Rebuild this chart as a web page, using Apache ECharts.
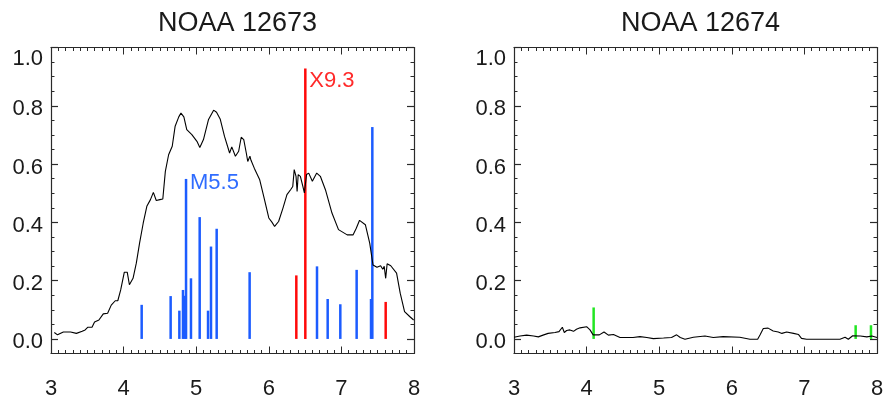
<!DOCTYPE html>
<html>
<head>
<meta charset="utf-8">
<script src="https://cdn.jsdelivr.net/npm/echarts@6/dist/echarts.min.js"></script>
<style>
html,body{margin:0;padding:0;background:#fff;}
#chart{width:886px;height:398px;}
</style>
</head>
<body>
<div id="chart"></div>
<script>
// ---- Data ----
const titles = ['NOAA 12673', 'NOAA 12674'];
const xTicks = [3, 4, 5, 6, 7, 8];
const yTickLabels = ['0.0', '0.2', '0.4', '0.6', '0.8', '1.0'];

// Left panel curve (NOAA 12673)
const curve1X = [3.046,3.09,3.17,3.27,3.35,3.43,3.47,3.505,3.53,3.565,3.60,3.66,3.72,3.78,3.83,3.885,3.92,3.96,4.01,4.05,4.08,4.13,4.175,4.22,4.27,4.32,4.37,4.41,4.45,4.50,4.54,4.575,4.62,4.67,4.71,4.76,4.79,4.83,4.87,4.94,5.01,5.05,5.10,5.17,5.24,5.28,5.33,5.39,5.46,5.49,5.54,5.585,5.62,5.655,5.69,5.71,5.74,5.755,5.80,5.875,5.93,6.00,6.045,6.08,6.135,6.195,6.25,6.30,6.33,6.35,6.375,6.39,6.405,6.435,6.47,6.49,6.52,6.55,6.60,6.66,6.71,6.78,6.87,6.96,7.08,7.16,7.205,7.25,7.33,7.39,7.435,7.49,7.54,7.57,7.59,7.61,7.63,7.68,7.76,7.81,7.87,7.94,7.995];
const curve1Y = [0.022,0.014,0.024,0.024,0.019,0.026,0.031,0.040,0.045,0.040,0.058,0.065,0.086,0.088,0.116,0.131,0.131,0.168,0.229,0.229,0.186,0.208,0.260,0.329,0.397,0.455,0.478,0.503,0.475,0.478,0.480,0.575,0.632,0.661,0.730,0.762,0.775,0.762,0.718,0.701,0.678,0.657,0.684,0.753,0.785,0.778,0.755,0.695,0.638,0.659,0.627,0.644,0.692,0.684,0.638,0.609,0.627,0.613,0.586,0.546,0.489,0.415,0.400,0.386,0.403,0.449,0.495,0.512,0.523,0.581,0.558,0.506,0.564,0.558,0.523,0.501,0.564,0.569,0.541,0.569,0.558,0.512,0.432,0.375,0.357,0.357,0.380,0.407,0.392,0.329,0.254,0.246,0.251,0.239,0.249,0.208,0.258,0.251,0.226,0.157,0.094,0.077,0.065];

// Left panel flares
const blueX = [4.249,4.648,4.768,4.818,4.841,4.860,4.928,5.048,5.163,5.204,5.282,5.736,6.664,6.811,6.985,7.21,7.408,7.426];
const blueY = [0.117,0.147,0.097,0.168,0.148,0.549,0.208,0.418,0.097,0.317,0.378,0.229,0.249,0.137,0.119,0.237,0.137,0.727];
const blueLabels = ['','','','','','M5.5','','','','','','','','','','','',''];
const redX = [6.379,6.503,7.61];
const redY = [0.218,0.928,0.127];
const redLabels = ['','X9.3',''];

// Right panel curve (NOAA 12674)
const curve2X = [3.0,3.083,3.174,3.27,3.335,3.40,3.47,3.565,3.62,3.666,3.693,3.725,3.77,3.82,3.86,3.91,4.0,4.047,4.09,4.175,4.24,4.30,4.37,4.46,4.64,4.735,4.83,4.92,5.06,5.17,5.24,5.29,5.355,5.47,5.63,5.745,5.88,6.11,6.25,6.356,6.39,6.434,6.50,6.57,6.64,6.69,6.755,6.85,6.92,6.96,7.03,7.26,7.49,7.56,7.605,7.665,7.77,7.86,7.93,8.0];
const curve2Y = [0.006,0.010,0.013,0.010,0.007,0.013,0.019,0.022,0.025,0.040,0.022,0.029,0.031,0.026,0.033,0.038,0.042,0.031,0.014,0.014,0.024,0.013,0.015,0.005,0.005,0.008,0.005,0.001,0.003,0.005,0.014,0.005,-0.001,0.006,0.010,0.005,0.008,0.006,-0.001,-0.001,0.014,0.036,0.037,0.027,0.024,0.019,0.024,0.019,0.015,0.002,-0.001,-0.001,-0.001,0.006,-0.001,0.011,0.010,0.007,0.010,0.005];

// Right panel flares
const greenX = [4.097,7.706,7.917];
const greenY = [0.108,0.047,0.047];
const greenLabels = ['','',''];

// ---- Styles ----
const FONT = 'Liberation Sans, Arial, Helvetica, sans-serif';
const AXIS_COLOR = '#2a2a2a';
const TEXT_COLOR = '#1a1a1a';
const BLUE = '#1c5cff', BLUE_TEXT = '#2f6cff';
const RED = '#ff0a0a', RED_TEXT = '#ff2a2a';
const GREEN = '#22e622';
const labelOffsets = { 'M5.5': [4, 4], 'X9.3': [4, 12] };
const TICK_FONT = 22;

const panels = [
  { left: 51, title: titles[0] },
  { left: 514, title: titles[1] }
];
const PW = 363, TOP = 47.5, H_MAIN = 306, PX_PER_UNIT = H_MAIN / 1.05;

const grids = [], xAxes = [], yAxes = [], titleOpts = [];
panels.forEach((p, i) => {
  grids.push({ left: p.left, top: TOP, width: PW, height: H_MAIN, outerBoundsMode: 'none', containLabel: false });
  grids.push({ left: p.left, top: TOP, width: PW, height: PX_PER_UNIT, outerBoundsMode: 'none', containLabel: false });
  const gMain = i * 2, gOver = i * 2 + 1;
  const lineStyle = { color: AXIS_COLOR, width: 1.2 };
  const baseX = {
    type: 'value', gridIndex: gMain, min: xTicks[0], max: xTicks[xTicks.length - 1], interval: 1,
    axisLine: { show: true, onZero: false, lineStyle },
    axisTick: { show: true, inside: true, length: 7, lineStyle: { color: AXIS_COLOR, width: 1 } },
    minorTick: { show: true, splitNumber: 10, length: 3.5, lineStyle: { color: AXIS_COLOR, width: 1 } },
    splitLine: { show: false }, minorSplitLine: { show: false }
  };
  xAxes.push(Object.assign({}, baseX, {
    position: 'bottom',
    axisLabel: { show: true, margin: 24, fontSize: TICK_FONT, color: TEXT_COLOR, fontFamily: FONT,
      formatter: v => String(v) }
  }));
  xAxes.push(Object.assign({}, baseX, { position: 'top', axisLabel: { show: false } }));
  xAxes.push({ type: 'value', gridIndex: gOver, min: 3, max: 8, show: false });

  const baseYMinor = {
    type: 'value', gridIndex: gMain, min: -0.05, max: 1.0, interval: 0.05,
    axisLine: { show: true, onZero: false, lineStyle },
    axisTick: { show: true, inside: true, length: 3.5, lineStyle: { color: AXIS_COLOR, width: 1 } },
    axisLabel: { show: false }, splitLine: { show: false }
  };
  yAxes.push(Object.assign({}, baseYMinor, { position: 'left' }));
  yAxes.push(Object.assign({}, baseYMinor, { position: 'right' }));
  const baseYMajor = {
    type: 'value', gridIndex: gOver, min: 0, max: 1.0, interval: 0.2,
    axisLine: { show: false },
    axisTick: { show: true, inside: true, length: 7, lineStyle: { color: AXIS_COLOR, width: 1.2 } },
    splitLine: { show: false }
  };
  yAxes.push(Object.assign({}, baseYMajor, {
    position: 'left',
    axisLabel: {
      show: true, margin: 8, fontSize: TICK_FONT, color: TEXT_COLOR, fontFamily: FONT,
      formatter: v => {
        const idx = Math.round(v / 0.2);
        const t = yTickLabels[idx] || '';
        return idx === 5 ? '{top|' + t + '}' : '{n|' + t + '}';
      },
      rich: {
        n: { fontSize: TICK_FONT, color: TEXT_COLOR, fontFamily: FONT, padding: [7, 0, 0, 0] },
        top: { fontSize: TICK_FONT, color: TEXT_COLOR, fontFamily: FONT, padding: [22, 0, 0, 0] }
      }
    }
  }));
  yAxes.push(Object.assign({}, baseYMajor, { position: 'right', axisLabel: { show: false } }));

  titleOpts.push({
    text: p.title, left: p.left + PW / 2, top: 5, textAlign: 'center',
    textStyle: { fontSize: 27, fontWeight: 'normal', color: TEXT_COLOR, fontFamily: FONT }
  });
});

function flareSeries(xs, ys, labels, color, textColor, xIdx, yIdx) {
  return {
    type: 'custom', xAxisIndex: xIdx, yAxisIndex: yIdx, clip: false,
    data: xs.map((x, k) => ({ value: [x, ys[k]], name: labels[k] })),
    renderItem: (params, api) => {
      const x = api.value(0), y = api.value(1);
      const p0 = api.coord([x, 0]);
      const p1 = api.coord([x, y]);
      const children = [{
        type: 'line',
        shape: { x1: p0[0], y1: p0[1], x2: p1[0], y2: p1[1] },
        style: { stroke: color, lineWidth: 2.5 }
      }];
      const name = labels[params.dataIndex];
      if (name) {
        const off = labelOffsets[name] || [4, 4];
        children.push({
          type: 'text',
          x: p1[0] + off[0], y: p1[1] + off[1],
          style: { text: name, fill: textColor, font: '22px ' + FONT, verticalAlign: 'middle', align: 'left' }
        });
      }
      return { type: 'group', children };
    }
  };
}

const series = [
  { type: 'line', xAxisIndex: 0, yAxisIndex: 0, data: curve1X.map((x, k) => [x, curve1Y[k]]),
    showSymbol: false, symbol: 'none', lineStyle: { color: '#000', width: 1.1 }, z: 2 },
  flareSeries(blueX, blueY, blueLabels, BLUE, BLUE_TEXT, 0, 0),
  flareSeries(redX, redY, redLabels, RED, RED_TEXT, 0, 0),
  { type: 'line', xAxisIndex: 3, yAxisIndex: 4, data: curve2X.map((x, k) => [x, curve2Y[k]]),
    showSymbol: false, symbol: 'none', lineStyle: { color: '#000', width: 1.1 }, z: 2 },
  flareSeries(greenX, greenY, greenLabels, GREEN, GREEN, 3, 4)
];

const chart = echarts.init(document.getElementById('chart'), null, { renderer: 'canvas' });
chart.setOption({
  animation: false,
  backgroundColor: '#fff',
  title: titleOpts,
  grid: grids,
  xAxis: xAxes,
  yAxis: yAxes,
  series
});
</script>
</body>
</html>
